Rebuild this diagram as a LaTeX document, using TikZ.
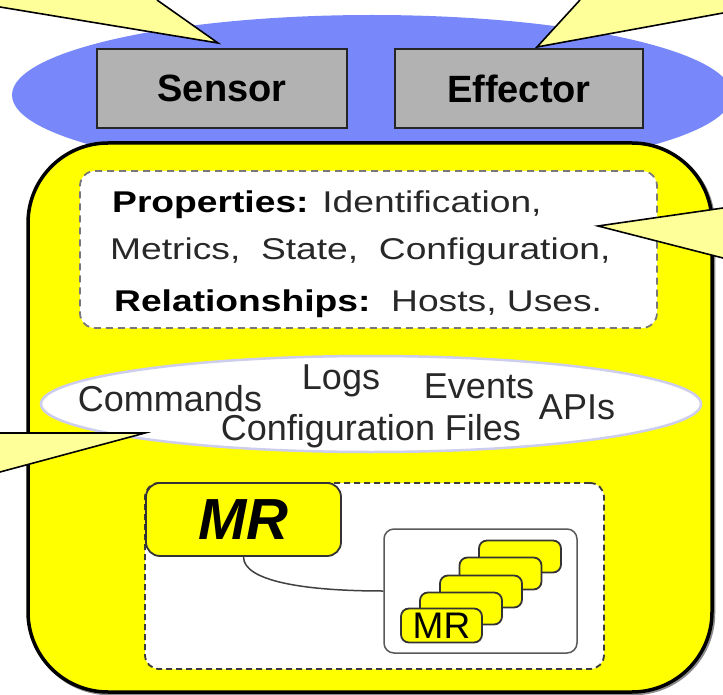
\documentclass[tikz,border=0pt]{standalone}
\usepackage{fontspec}
\setmainfont{Liberation Sans}
\newfontfamily\widefont[FakeStretch=1.24]{Liberation Sans}
\usetikzlibrary{shapes.geometric}
\definecolor{blueell}{RGB}{120,136,250}
\definecolor{callfill}{RGB}{255,255,153}
\definecolor{ybox}{RGB}{255,255,0}
\definecolor{gbox}{RGB}{178,178,178}
\definecolor{dashc}{RGB}{60,60,60}
\definecolor{dashl}{RGB}{120,120,120}
\definecolor{txt}{RGB}{40,40,40}
\definecolor{rim}{RGB}{205,205,238}
\begin{document}
\begin{tikzpicture}[x=1pt,y=-1pt,
  calledge/.style={draw=black, line width=1.6pt, line join=miter},
  sebox/.style={draw=black!85, line width=2pt, fill=gbox, minimum width=250pt, minimum height=79pt, inner sep=0pt, font=\fontsize{38}{40}\selectfont\bfseries},
  proptext/.style={anchor=base west, inner sep=0pt, text=txt, font=\widefont\fontsize{30}{32}\selectfont},
  elltext/.style={inner sep=0pt, text=txt, font=\fontsize{36}{38}\selectfont},
  stackbox/.style={draw=black!80, line width=1.8pt, fill=ybox, rounded corners=8pt, minimum width=82pt, minimum height=32pt, inner sep=0pt},
]
\useasboundingbox (0,0) rectangle (723,695);
\fill[white] (0,0) rectangle (723,695);

% blue ellipse
\fill[blueell] (372,95) ellipse [x radius=360, y radius=80];

% main yellow box
\draw[black!45, line width=3.5pt, rounded corners=80pt] (29.5,144.5) rectangle (713.5,693.5);
\draw[line width=3.5pt, fill=ybox, rounded corners=80pt] (28,143) rectangle (712,692);

% sensor / effector
\node[sebox] (sensor) at (222,88.5) {Sensor};
\node[sebox, minimum width=248pt] (effector) at (519,88.5) {Effector};

% properties box
\node[draw=dashl, dash pattern=on 7pt off 5pt, line width=1.8pt, fill=white, rounded corners=15pt, minimum width=577pt, minimum height=157pt, inner sep=0pt] (props) at (368.5,249.5) {};
\node[proptext] (p1) at (112,213) {{\color{black}\bfseries Properties:} Identification,};
\node[proptext] (p2) at (110,259) {Metrics,\ \ State,\ \ Configuration,};
\node[proptext] (p3) at (114,311) {{\color{black}\bfseries Relationships:}\ \ Hosts,\ Uses.};

% commands ellipse
\node[ellipse, fill=white, draw=rim, line width=2.5pt, minimum width=660pt, minimum height=96pt, inner sep=0pt] (cmds) at (371,404) {};
\node[elltext] (commands) at (170,399) {Commands};
\node[elltext] (logs) at (341,381) {Logs};
\node[elltext] (events) at (479,386) {Events};
\node[elltext] (apis) at (577,407) {APIs};
\node[elltext] (conffiles) at (371,431) {Configuration Files};

% MR area
\node[draw=dashc, dash pattern=on 6pt off 4pt, line width=1.8pt, fill=white, rounded corners=14pt, minimum width=459pt, minimum height=186pt, inner sep=0pt] (mrarea) at (374.5,576) {};
\node[draw=black!80, line width=1.8pt, fill=ybox, rounded corners=14pt, minimum width=195pt, minimum height=73pt, inner sep=0pt, font=\fontsize{58}{60}\selectfont\bfseries\itshape] (mrbig) at (243.5,519.5) {MR};
\node[draw=black!65, line width=1.5pt, fill=white, rounded corners=10pt, minimum width=193pt, minimum height=124pt, inner sep=0pt] (inner) at (480.5,591) {};
\draw[black!75, line width=1.5pt] (mrbig.south) .. controls +(0,24) and +(-80,0) .. (inner.west);

\node[stackbox] (stack5) at (520,556.5) {};
\node[stackbox] (stack4) at (500.5,573.5) {};
\node[stackbox] (stack3) at (481,591.5) {};
\node[stackbox] (stack2) at (461,608.5) {};
\node[stackbox, minimum width=81pt, minimum height=34pt, font=\fontsize{37}{38}\selectfont] (stack1) at (441.5,625.5) {MR};

% callouts
\fill[callfill] (0,0) -- (157,0) -- (218,43) -- (0,7) -- cycle;
\draw[calledge] (157,0) -- (218,43) -- (0,7);
\fill[callfill] (580,0) -- (537,47) -- (723,13) -- (723,0) -- cycle;
\draw[calledge] (580,0) -- (537,47) -- (723,13);
\fill[callfill] (723,208) -- (598,226) -- (723,258) -- cycle;
\draw[calledge] (723,208) -- (598,226) -- (723,258);
\fill[callfill] (0,433) -- (145,433) -- (0,472) -- cycle;
\draw[calledge] (0,433) -- (145,433) -- (0,472);
\end{tikzpicture}
\end{document}
